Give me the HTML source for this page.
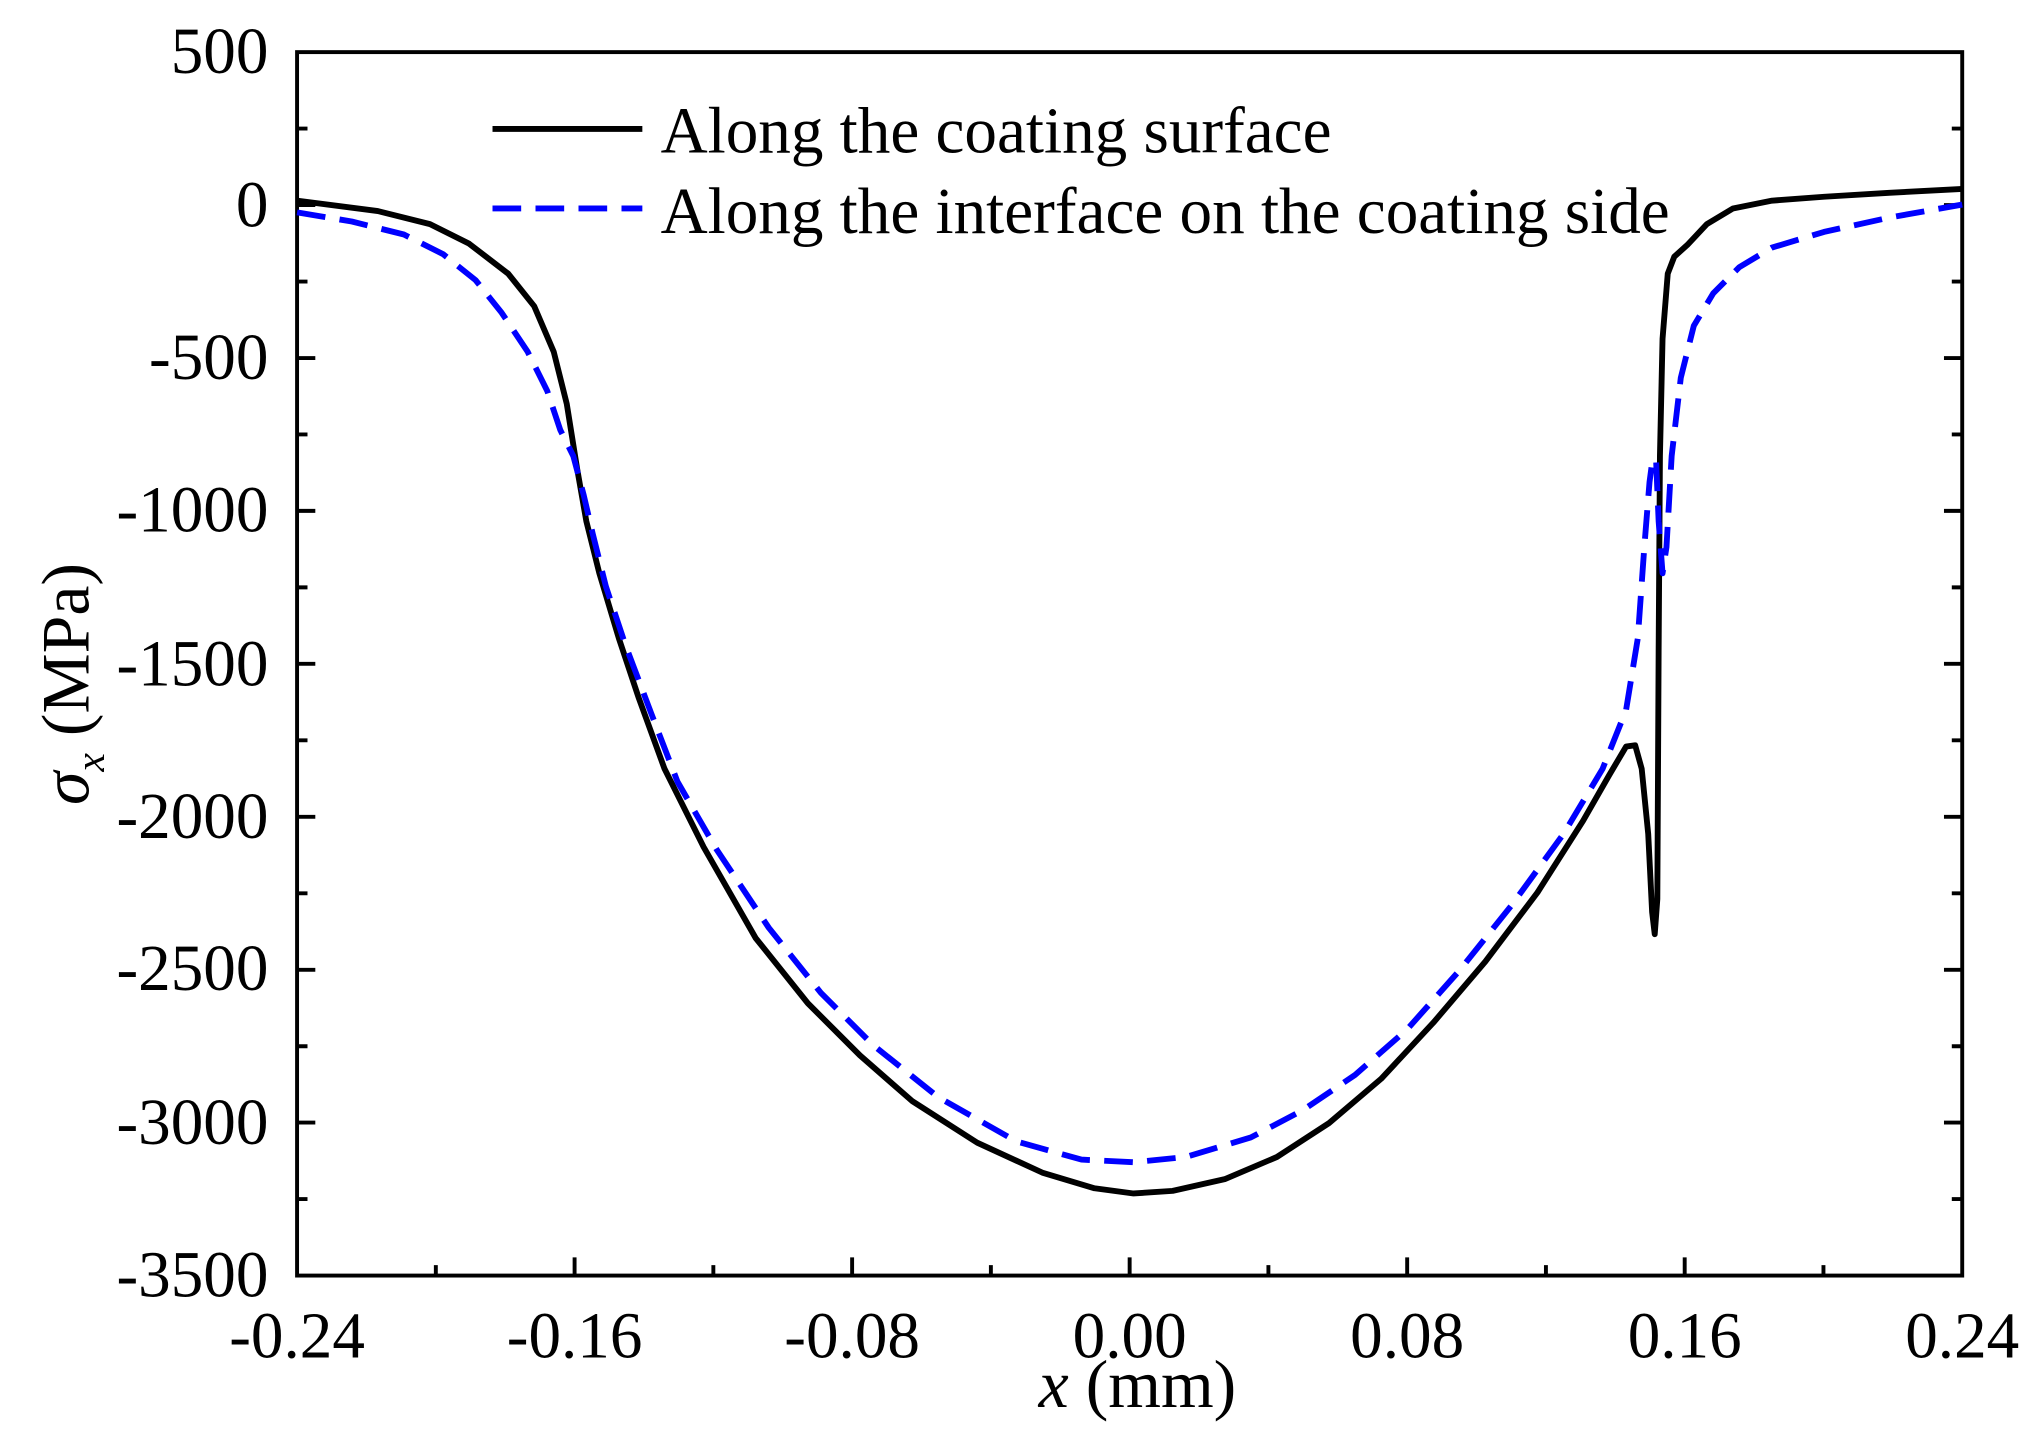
<!DOCTYPE html>
<html><head><style>html,body{margin:0;padding:0;background:#fff}svg{display:block}</style></head>
<body>
<svg width="2043" height="1440" viewBox="0 0 1568 1105.2" preserveAspectRatio="none" xmlns="http://www.w3.org/2000/svg" font-family="'Liberation Serif', serif">
<g stroke="#000" stroke-width="3" fill="none">
<rect x="228" y="40" width="1278" height="939"/>
<path d="M441.0 979v-14M654.0 979v-14M867.0 979v-14M1080.0 979v-14M1293.0 979v-14
M334.5 979v-8M547.5 979v-8M760.5 979v-8M973.5 979v-8M1186.5 979v-8M1399.5 979v-8"/>
<path d="M228 157.4h14M228 274.8h14M228 392.1h14M228 509.5h14M228 626.9h14M228 744.3h14M228 861.6h14
M228 98.7h8M228 216.1h8M228 333.4h8M228 450.8h8M228 568.2h8M228 685.6h8M228 803h8M228 920.3h8
M1506 157.4h-14M1506 274.8h-14M1506 392.1h-14M1506 509.5h-14M1506 626.9h-14M1506 744.3h-14M1506 861.6h-14
M1506 98.7h-8M1506 216.1h-8M1506 333.4h-8M1506 450.8h-8M1506 568.2h-8M1506 685.6h-8M1506 803h-8M1506 920.3h-8"/>
</g>
<g font-size="50" text-anchor="end" fill="#000">
<text x="206" y="56">500</text><text x="206" y="174">0</text><text x="206" y="291">-500</text>
<text x="206" y="408">-1000</text><text x="206" y="526">-1500</text><text x="206" y="643">-2000</text>
<text x="206" y="760">-2500</text><text x="206" y="878">-3000</text><text x="206" y="995">-3500</text>
</g>
<g font-size="50" text-anchor="middle" fill="#000">
<text x="228" y="1042">-0.24</text><text x="441" y="1042">-0.16</text><text x="654" y="1042">-0.08</text>
<text x="867" y="1042">0.00</text><text x="1080" y="1042">0.08</text><text x="1293" y="1042">0.16</text><text x="1506" y="1042">0.24</text>
<text x="873" y="1080" font-size="52"><tspan font-style="italic">x</tspan> (mm)</text>
</g>
<text transform="translate(68,525) rotate(-90)" text-anchor="middle" font-size="52" fill="#000"><tspan font-style="italic">σ</tspan><tspan font-style="italic" font-size="32" dy="12">x</tspan><tspan dy="-12"> (MPa)</tspan></text>
<polyline fill="none" stroke="#000" stroke-width="4.5" stroke-linejoin="round" points="228,154 290,162 330,172 360,187 390,210 410,235 425,270 435,310 443,360 450,400 460,440 475,490 490,535 510,590 540,650 580,720 620,770 660,810 700,845 750,877 800,900 840,912 870,916 900,914 940,905 980,888 1020,862 1060,828 1100,785 1140,738 1180,685 1215,630 1235,595 1248,573 1255,572 1260,590 1265,640 1268,700 1270,717 1272,690 1273,500 1274,350 1276,260 1280,210 1285,197 1295,188 1310,172 1330,160 1360,154 1400,151 1450,148 1506,145"/>
<polyline fill="none" stroke="#0000ff" stroke-width="4.5" stroke-dasharray="22,11" stroke-linejoin="round" points="228,163 270,170 310,180 340,195 365,215 385,240 405,270 420,300 430,330 440,350 448,380 455,410 465,450 480,495 500,548 520,600 550,652 590,712 630,762 670,802 720,842 780,876 830,890 870,892 910,888 960,873 1000,852 1040,825 1080,790 1120,745 1160,695 1200,640 1230,590 1248,545 1257,490 1262,420 1266,370 1268,355 1271,352 1273,400 1276,440 1279,420 1283,350 1290,290 1300,250 1315,225 1335,205 1360,190 1400,178 1450,167 1506,157"/>
<line x1="378" y1="99" x2="493" y2="99" stroke="#000" stroke-width="4.5"/>
<line x1="378" y1="160" x2="493" y2="160" stroke="#0000ff" stroke-width="4.5" stroke-dasharray="22,11"/>
<g font-size="50" fill="#000">
<text x="507" y="117">Along the coating surface</text>
<text x="507" y="179">Along the interface on the coating side</text>
</g>
</svg>
</body></html>
